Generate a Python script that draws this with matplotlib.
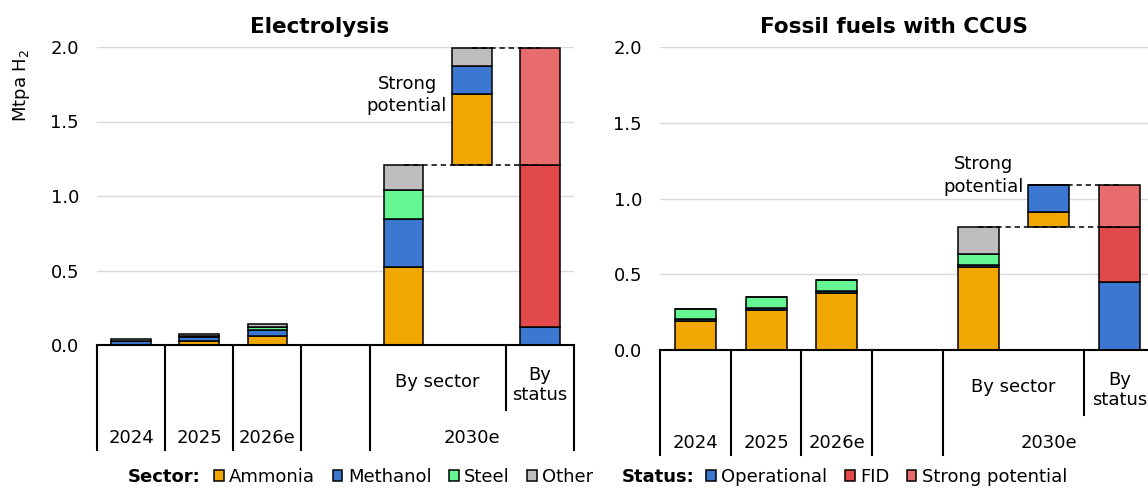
import matplotlib
matplotlib.use('Agg')
import matplotlib.pyplot as plt
from matplotlib.patches import Patch
from matplotlib.lines import Line2D

# x slots: 0-2 years, 3 empty spacer, 4 = 2030e by sector,
# 5 = strong potential (stacked on top of 4), 6 = 2030e by status
years = ['2024', '2025', '2026e']
sector_slots = [0, 1, 2, 4, 5]
status_slot = 6
group_label = '2030e'
sector_names = ['Ammonia', 'Methanol', 'Steel', 'Other']
status_names = ['Operational', 'FID', 'Strong potential']

# Electrolysis, Mtpa H2
elec_ammonia = [0.003, 0.030, 0.062, 0.525, 0.475]
elec_methanol = [0.025, 0.026, 0.038, 0.323, 0.190]
elec_steel = [0.002, 0.005, 0.023, 0.190, 0.000]
elec_other = [0.010, 0.015, 0.020, 0.172, 0.115]
elec_status = [0.123, 1.087, 0.780]

# Fossil fuels with CCUS, Mtpa H2
ccus_ammonia = [0.190, 0.265, 0.375, 0.546, 0.098]
ccus_methanol = [0.012, 0.012, 0.015, 0.015, 0.180]
ccus_steel = [0.070, 0.072, 0.073, 0.073, 0.000]
ccus_other = [0.000, 0.000, 0.000, 0.176, 0.000]
ccus_status = [0.452, 0.358, 0.278]

SECTOR_COLORS = ['#F0A800', '#3C78D2', '#66F593', '#BEBEBE']
STATUS_COLORS = ['#3C78D2', '#E2494A', '#E96C6C']
W, H = 1148, 488
FS = 13
EDGE = 1.1


def px(x, y):
    """pixel position (from top-left) -> figure fraction"""
    return x / W, 1 - y / H


def plot_panel(ax, sectors, status, title, title_x, note_xy):
    ax.set_xlim(-0.5, 6.5)
    ax.set_ylim(0, 2.0)
    ax.set_yticks([0, 0.5, 1.0, 1.5, 2.0])
    ax.set_yticklabels(['0.0', '0.5', '1.0', '1.5', '2.0'])
    ax.set_xticks([])
    ax.tick_params(axis='y', length=0, pad=13, labelsize=FS)
    ax.grid(axis='y', color='#D9D9D9', linewidth=1.0, zorder=0)
    ax.set_axisbelow(True)
    for s in ['left', 'right', 'top']:
        ax.spines[s].set_visible(False)
    ax.spines['bottom'].set_linewidth(1.5)
    ax.spines['bottom'].set_zorder(5)

    # stacked sector bars; strong potential sits on top of the by-sector bar
    n = len(sector_slots)
    totals = [sum(s[i] for s in sectors) for i in range(n)]
    base = [0.0] * n
    base[4] = totals[3]
    bottoms = list(base)
    for vals, col in zip(sectors, SECTOR_COLORS):
        ax.bar(sector_slots, vals, bottom=bottoms, width=0.58, color=col,
               edgecolor='black', linewidth=EDGE, zorder=3)
        bottoms = [b + v for b, v in zip(bottoms, vals)]

    # by status bar
    b = 0.0
    for v, col in zip(status, STATUS_COLORS):
        ax.bar(status_slot, v, bottom=b, width=0.58, color=col,
               edgecolor='black', linewidth=EDGE, zorder=3)
        b += v

    # dashed connectors to the status bar
    top_sector = totals[3]
    top_strong = base[4] + totals[4]
    ax.plot([4, status_slot], [top_sector, top_sector], color='black',
            linewidth=1.1, linestyle=(0, (3.5, 2.5)), zorder=4)
    ax.plot([5, status_slot], [top_strong, top_strong], color='black',
            linewidth=1.1, linestyle=(0, (3.5, 2.5)), zorder=4)

    ax.text(note_xy[0], note_xy[1], 'Strong\npotential', ha='center', va='center',
            fontsize=FS, linespacing=1.3)

    # category separators and labels under the axis
    h_px = ax.bbox.height
    tr = ax.get_xaxis_transform()
    for bnd in [-0.5, 0.5, 1.5, 2.5, 3.5, 6.5]:
        ax.add_line(Line2D([bnd, bnd], [0, -105 / h_px], transform=tr,
                           color='black', linewidth=1.5, clip_on=False))
    ax.add_line(Line2D([5.5, 5.5], [0, -65 / h_px], transform=tr,
                       color='black', linewidth=1.5, clip_on=False))

    def under(label, x, off):
        ax.annotate(label, xy=(x, 0), xycoords=('data', 'axes fraction'),
                    xytext=(0, -off), textcoords='offset pixels',
                    ha='center', va='center', fontsize=FS, linespacing=1.2,
                    annotation_clip=False)

    for i, y in enumerate(years):
        under(y, i, 93)
    under(group_label, 5, 93)
    under('By sector', 4.5, 37)
    under('By\nstatus', status_slot, 40)

    fig.text(*px(title_x, 27), title, ha='center', va='center',
             fontsize=15.5, fontweight='bold')


fig = plt.figure(figsize=(W / 100, H / 100), dpi=100)
ax1 = fig.add_axes([97 / W, 1 - 345 / H, 477 / W, 298 / H])
ax2 = fig.add_axes([660 / W, 1 - 350 / H, 495 / W, 303 / H])

plot_panel(ax1, [elec_ammonia, elec_methanol, elec_steel, elec_other], elec_status,
           'Electrolysis', 320, (4.05, 1.68))
plot_panel(ax2, [ccus_ammonia, ccus_methanol, ccus_steel, ccus_other], ccus_status,
           'Fossil fuels with CCUS', 894, (4.08, 1.152))

fig.text(*px(21, 85), 'Mtpa H$_2$', rotation=90, ha='center', va='center', fontsize=FS)

# legends
leg_kw = dict(loc='center left', ncol=4, frameon=False, fontsize=FS,
              handlelength=0.55, handleheight=0.55, handletextpad=0.3,
              columnspacing=0.95, borderpad=0, borderaxespad=0)
fig.text(*px(128, 477), 'Sector:', ha='left', va='center', fontsize=FS, fontweight='bold')
fig.legend(handles=[Patch(facecolor=c, edgecolor='black', linewidth=EDGE, label=l)
                    for c, l in zip(SECTOR_COLORS, sector_names)],
           bbox_to_anchor=px(214, 477), **leg_kw)
fig.text(*px(622, 477), 'Status:', ha='left', va='center', fontsize=FS, fontweight='bold')
leg_kw['ncol'] = 3
fig.legend(handles=[Patch(facecolor=c, edgecolor='black', linewidth=EDGE, label=l)
                    for c, l in zip(STATUS_COLORS, status_names)],
           bbox_to_anchor=px(706, 477), **leg_kw)

fig.savefig('out.png', dpi=100)
